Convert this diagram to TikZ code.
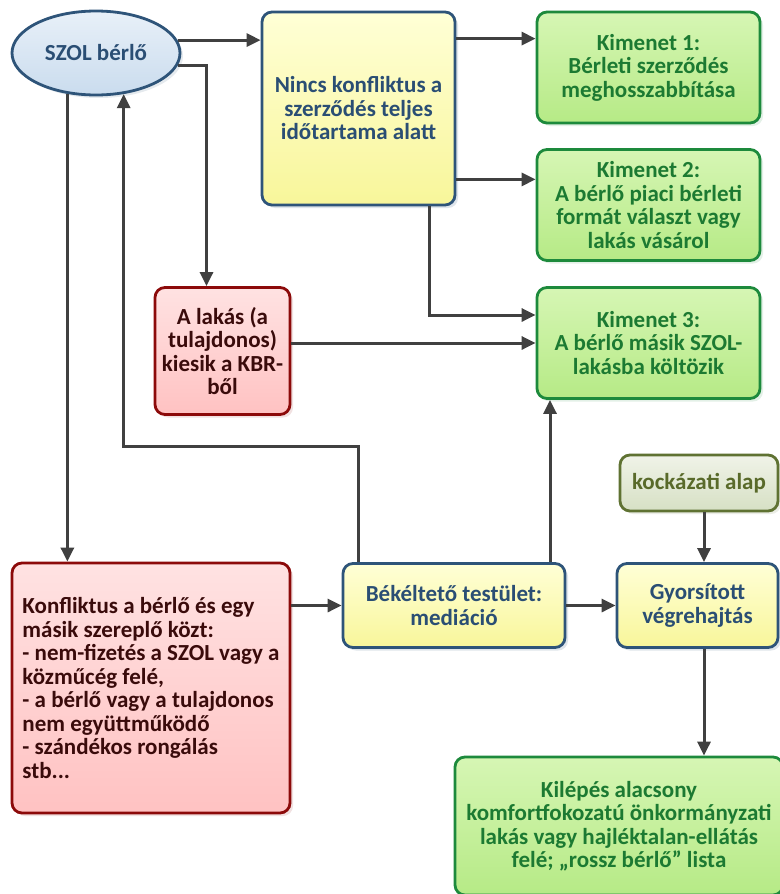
\documentclass[tikz,border=0pt]{standalone}
\usepackage{fontspec}
\setmainfont{Carlito}
\usetikzlibrary{arrows.meta,shapes.geometric,shadows,calc}

% palette
\definecolor{arrowgray}{HTML}{404040}
\definecolor{blueline}{HTML}{2E5479}
\definecolor{bluetext}{HTML}{2A4E74}
\definecolor{bluetop}{HTML}{E8F0F8}
\definecolor{bluebot}{HTML}{CADCEE}
\definecolor{yeltop}{HTML}{FFFFD6}
\definecolor{yelbot}{HTML}{F8F69A}
\definecolor{greenline}{HTML}{1D8A3C}
\definecolor{greentext}{HTML}{1C7A32}
\definecolor{greentop}{HTML}{D6F6B4}
\definecolor{greenbot}{HTML}{B6EA86}
\definecolor{redline}{HTML}{8C0A0A}
\definecolor{redtext}{HTML}{3A0B0B}
\definecolor{redtop}{HTML}{FFE2E2}
\definecolor{redbot}{HTML}{FFC2C2}
\definecolor{oliveline}{HTML}{5F7232}
\definecolor{olivetext}{HTML}{596A2A}
\definecolor{olivetop}{HTML}{F0F3E8}
\definecolor{olivebot}{HTML}{D6E0C4}

\tikzset{
  x=1pt, y=-1pt,
  txt/.style={font=\bfseries\fontsize{23}{23.5}\selectfont},
  box/.style={txt, rounded corners=10pt, line width=2.8pt, align=center, inner sep=4pt},
  yelbox/.style={box, draw=blueline, text=bluetext, top color=yeltop, bottom color=yelbot,
    drop shadow={shadow xshift=3pt, shadow yshift=-3pt, fill=blueline, opacity=0.15}},
  greenbox/.style={box, draw=greenline, text=greentext, top color=greentop, bottom color=greenbot,
    drop shadow={shadow xshift=3pt, shadow yshift=-3pt, fill=greenline, opacity=0.12}},
  redbox/.style={box, draw=redline, text=redtext, top color=redtop, bottom color=redbot,
    drop shadow={shadow xshift=3pt, shadow yshift=-3pt, fill=redline, opacity=0.12}},
  olivebox/.style={box, draw=oliveline, text=olivetext, top color=olivetop, bottom color=olivebot,
    drop shadow={shadow xshift=3pt, shadow yshift=-3pt, fill=oliveline, opacity=0.12}},
  arr/.style={draw=arrowgray, line width=3pt, -{Triangle[length=14pt,width=13pt]}},
}

\begin{document}
\begin{tikzpicture}
\useasboundingbox[fill=white] (0,0) rectangle (779,894);

% tenant
\node[txt, ellipse, draw=blueline, line width=2.8pt, text=bluetext,
      top color=bluetop, bottom color=bluebot, inner sep=0pt,
      minimum width=168pt, minimum height=84pt,
      drop shadow={shadow xshift=3pt, shadow yshift=-3pt, fill=blueline, opacity=0.12}]
      (szol) at (96,53) {SZOL bérlő};

% main states
\node[yelbox, minimum width=193pt, minimum height=193pt] (nincs) at (358.5,108.5)
  {Nincs konfliktus a\\szerződés teljes\\időtartama alatt};
\node[yelbox, minimum width=222pt, minimum height=84pt] (med) at (454,605.5)
  {Békéltető testület:\\mediáció};
\node[yelbox, minimum width=161pt, minimum height=84pt] (gyors) at (697.5,605.5)
  {Gyorsított\\végrehajtás};
\node[olivebox, minimum width=158pt, minimum height=56pt] (kock) at (699,483)
  {kockázati alap};

% outcomes
\node[greenbox, minimum width=223pt, minimum height=111pt] (k1) at (648.5,67.5)
  {Kimenet 1:\\Bérleti szerződés\\meghosszabbítása};
\node[greenbox, minimum width=223pt, minimum height=111pt] (k2) at (648.5,205)
  {Kimenet 2:\\A bérlő piaci bérleti\\formát választ vagy\\lakás vásárol};
\node[greenbox, minimum width=223pt, minimum height=111pt] (k3) at (648.5,343)
  {Kimenet 3:\\A bérlő másik SZOL-\\lakásba költözik};
\node[greenbox, minimum width=328pt, minimum height=138pt] (kilep) at (619,826)
  {Kilépés alacsony\\komfortfokozatú önkormányzati\\lakás vagy hajléktalan-ellátás\\felé; „rossz bérlő” lista};

% problem states
\node[redbox, minimum width=135pt, minimum height=127pt] (lakas) at (222.5,351)
  {A lakás (a\\tulajdonos)\\kiesik a KBR-\\ből};
\node[redbox, align=left, minimum width=278pt, minimum height=250pt] (konf) at (151,688)
  {Konfliktus a bérlő és egy\\másik szereplő közt:\\- nem-fizetés a SZOL vagy a\\közműcég felé,\\- a bérlő vagy a tulajdonos\\nem együttműködő\\- szándékos rongálás\\stb...};

% connectors
\draw[arr] (szol.9) -- (szol.9 -| nincs.west);
\draw[arr] (szol.-9) -| ([xshift=-16pt]lakas.north);
\draw[arr] (szol.235) -- (szol.235 |- konf.north);
\draw[arr] ([xshift=-96pt]med.north) -- ++(0,-116) -| (szol.-56);

\draw[arr] ([yshift=-28pt]nincs.north east) -- ([yshift=-28pt]nincs.north east -| k1.west);
\draw[arr] ([yshift=27pt]nincs.south east) -- ([yshift=27pt]nincs.south east -| k2.west);
\draw[arr] ([xshift=-27pt]nincs.south east) |- ([yshift=28pt]k3.west);
\draw[arr] (lakas.east |- k3.west) -- (k3.west);
\draw[arr] ([xshift=96pt]med.north) -- ([xshift=96pt]med.north |- k3.south);

\draw[arr] (konf.east |- med.west) -- (med.west);
\draw[arr] (med.east) -- (gyors.west);
\draw[arr] ([xshift=5pt]kock.south) -- ([xshift=5pt]kock.south |- gyors.north);
\draw[arr] ([xshift=6.5pt]gyors.south) -- ([xshift=6.5pt]gyors.south |- kilep.north);
\end{tikzpicture}
\end{document}
